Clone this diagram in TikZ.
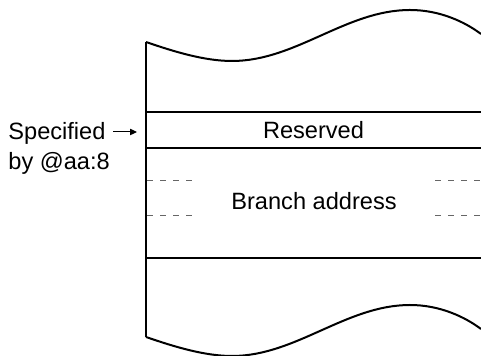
\documentclass[tikz,border=0pt]{standalone}
\usepackage{fontspec}
\setmainfont{Liberation Sans}
\usetikzlibrary{positioning}
\usetikzlibrary{arrows.meta}
\definecolor{dashgray}{rgb}{0.4,0.4,0.4}

\begin{document}
\begin{tikzpicture}[%
  x=0.5pt, y=-0.5pt,
  edge/.style={line width=1pt},
  gap/.style={line width=0.5pt, dashgray, dash pattern=on 3pt off 3.5pt},
  cell/.style={inner sep=0pt, font=\fontsize{11.8}{15}\selectfont},
  lbl/.style={inner sep=0pt, anchor=base west, font=\fontsize{11.8}{15}\selectfont},
  pointer/.style={line width=0.5pt, -{Triangle[length=3.5pt,width=3.2pt]}},
]

  \useasboundingbox (0,0) rectangle (481,356);

  \coordinate (TL) at (146,42);
  \coordinate (BL) at (146,337);

  % torn top and bottom edges
  \draw[edge] (TL) .. controls (175,52) and (205,61) .. (232,61)
    .. controls (296,61) and (346,10) .. (410,10)
    .. controls (440,10) and (465,22) .. (481,34);
  \draw[edge] (BL) .. controls (175,347) and (205,356) .. (232,356)
    .. controls (296,356) and (346,305) .. (410,305)
    .. controls (440,305) and (465,317) .. (481,329);
  \draw[edge] (TL) -- (BL);

  % fields
  \draw[edge] (146,112) -- (481,112);
  \draw[edge] (146,148) -- (481,148);
  \draw[edge] (146,258) -- (481,258);

  \draw[gap] (147,181) -- (194,181);
  \draw[gap] (147,216) -- (194,216);
  \draw[gap] (435,181) -- (481,181);
  \draw[gap] (435,216) -- (481,216);

  \node[cell] (reserved) at (313.5,130.5) {Reserved};
  \node[cell] (branch) at (314,201) {Branch address};

  % pointer into the table
  \node[lbl] (spec) at (8,140) {Specified};
  \node[lbl] (by) at (8,170) {by @aa:8};
  \coordinate (specto) at (137,132);
  \draw[pointer, shorten <=3.75pt] (spec.east |- specto) -- (specto);

\end{tikzpicture}
\end{document}
